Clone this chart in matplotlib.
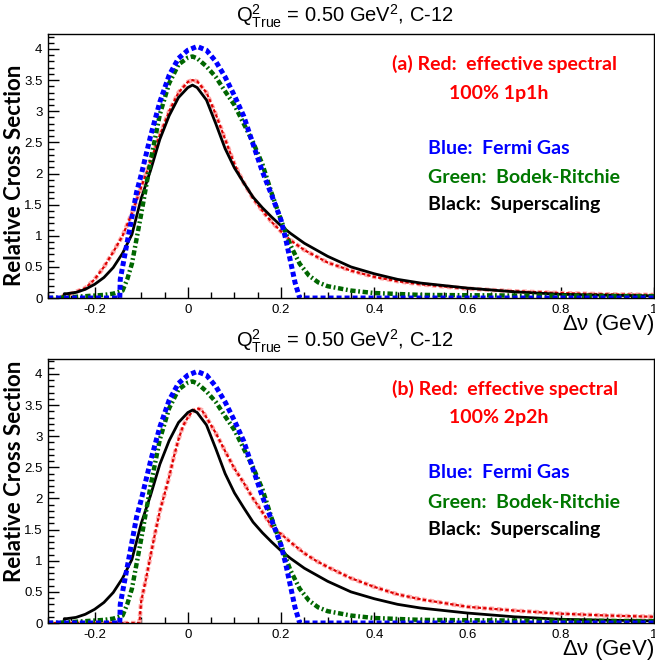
import numpy as np
import matplotlib
matplotlib.use('Agg')
import matplotlib.pyplot as plt
from matplotlib.ticker import MultipleLocator, FormatStrFormatter

plt.rcParams['font.family'] = ['Liberation Sans', 'DejaVu Sans']
plt.rcParams['axes.unicode_minus'] = False
plt.rcParams['mathtext.default'] = 'regular'

# Fermi gas (blue), same in both panels
blue_x = [-0.30, -0.146, -0.145, -0.14, -0.13, -0.12, -0.11, -0.10, -0.08, -0.06, -0.04, -0.02, 0.00, 0.02,
          0.04, 0.06, 0.08, 0.10, 0.12, 0.14, 0.16, 0.18, 0.20, 0.21, 0.22, 0.23, 0.24, 1.00]
blue_y = [0.0, 0.0, 0.3, 0.5, 0.9, 1.3, 1.7, 1.98, 2.6, 3.15, 3.58, 3.85, 3.98, 4.04,
          3.98, 3.8, 3.55, 3.25, 2.92, 2.47, 2.03, 1.65, 1.25, 0.95, 0.6, 0.25, 0.0, 0.0]

# Bodek-Ritchie (green)
green_x = [-0.30, -0.26, -0.22, -0.18, -0.16, -0.14, -0.13, -0.12, -0.11, -0.10, -0.08, -0.06, -0.04, -0.02,
           0.00, 0.01, 0.02, 0.04, 0.06, 0.08, 0.10, 0.12, 0.14, 0.16, 0.18, 0.20, 0.22, 0.24, 0.26,
           0.28, 0.30, 0.35, 0.40, 0.50, 0.70, 1.00]
green_y = [0.0, 0.01, 0.03, 0.05, 0.07, 0.12, 0.3, 0.55, 0.95, 1.35, 2.2, 2.95, 3.45, 3.75,
           3.86, 3.88, 3.85, 3.72, 3.55, 3.32, 3.1, 2.8, 2.5, 2.15, 1.68, 1.25, 0.85, 0.55, 0.36,
           0.25, 0.19, 0.12, 0.08, 0.05, 0.04, 0.03]

# Superscaling (black)
black_x = [-0.266, -0.265, -0.26, -0.24, -0.22, -0.20, -0.18, -0.16, -0.14, -0.12, -0.10, -0.08, -0.06, -0.04,
           -0.02, 0.00, 0.01, 0.02, 0.04, 0.06, 0.08, 0.10, 0.12, 0.14, 0.16, 0.18, 0.20, 0.22, 0.25,
           0.30, 0.35, 0.40, 0.45, 0.50, 0.60, 0.70, 0.80, 0.90, 1.00]
black_y = [0.0, 0.07, 0.07, 0.09, 0.14, 0.22, 0.33, 0.49, 0.72, 1.02, 1.6, 2.05, 2.55, 2.93,
           3.22, 3.38, 3.42, 3.38, 3.18, 2.8, 2.4, 2.09, 1.85, 1.62, 1.45, 1.3, 1.16, 1.04, 0.88,
           0.67, 0.5, 0.39, 0.3, 0.24, 0.16, 0.1, 0.06, 0.045, 0.035]

# effective spectral, 100% 1p1h (red, panel a)
red_a_x = [-0.27, -0.25, -0.22, -0.20, -0.18, -0.16, -0.14, -0.12, -0.10, -0.08, -0.06, -0.04, -0.02,
           0.00, 0.01, 0.02, 0.04, 0.06, 0.08, 0.10, 0.12, 0.14, 0.16, 0.18, 0.20, 0.22, 0.25,
           0.30, 0.35, 0.40, 0.45, 0.50, 0.60, 0.70, 0.80, 0.90, 1.00]
red_a_y = [0.03, 0.07, 0.16, 0.3, 0.5, 0.74, 1.0, 1.36, 1.78, 2.2, 2.62, 3.0, 3.3,
           3.47, 3.5, 3.48, 3.3, 2.95, 2.55, 2.15, 1.85, 1.6, 1.4, 1.22, 1.07, 0.93, 0.77,
           0.57, 0.44, 0.34, 0.27, 0.22, 0.15, 0.11, 0.08, 0.06, 0.05]

# effective spectral, 100% 2p2h (red, panel b)
red_b_x = [-0.30, -0.104, -0.10, -0.09, -0.08, -0.07, -0.06, -0.05, -0.04, -0.03, -0.02, -0.01,
           0.00, 0.01, 0.02, 0.03, 0.04, 0.06, 0.08, 0.10, 0.12, 0.14, 0.16, 0.18, 0.20, 0.22,
           0.25, 0.275, 0.30, 0.35, 0.40, 0.45, 0.50, 0.60, 0.70, 0.80, 0.90, 1.00]
red_b_y = [0.0, 0.0, 0.35, 0.7, 1.08, 1.45, 1.8, 2.07, 2.35, 2.67, 2.95, 3.17,
           3.3, 3.4, 3.45, 3.42, 3.3, 3.05, 2.76, 2.48, 2.25, 2.0, 1.78, 1.55, 1.43, 1.3,
           1.12, 1.0, 0.9, 0.72, 0.58, 0.46, 0.38, 0.26, 0.2, 0.15, 0.12, 0.1]

panels = [
    dict(rect=[0.0733, 0.5498, 0.925, 0.3988], red_x=red_a_x, red_y=red_a_y, top=34,
         title_y=16, ylab_y=175, lines=['(a) Red:  effective spectral', '100% 1p1h']),
    dict(rect=[0.0733, 0.0589, 0.925, 0.3988], red_x=red_b_x, red_y=red_b_y, top=359,
         title_y=341, ylab_y=471, lines=['(b) Red:  effective spectral', '100% 2p2h']),
]

fig = plt.figure(figsize=(6.55, 6.62), dpi=100)
W, H = 655.0, 662.0
note_font = dict(fontsize=14, fontweight='bold', family='Lato', va='center', ha='left')

for p in panels:
    ax = fig.add_axes(p['rect'])
    ax.plot(p['red_x'], p['red_y'], color='#ffaaaa', lw=3.2, ls=(0, (1, 0.7)))
    ax.plot(p['red_x'], p['red_y'], color='#dd0000', lw=1.6, ls=(0, (1.5, 1)))
    ax.plot(black_x, black_y, color='black', lw=2.0)
    ax.plot(green_x, green_y, color='#006600', lw=3.2, ls=(0, (1.2, 0.6, 0.4, 0.6)))
    ax.plot(blue_x, blue_y, color='#0000ff', lw=3.6, ls=(0, (1, 0.6)))

    ax.set_xlim(-0.3, 1.0)
    ax.set_ylim(0, 4.24)
    ax.xaxis.set_major_locator(MultipleLocator(0.2))
    ax.xaxis.set_minor_locator(MultipleLocator(0.05))
    ax.yaxis.set_major_locator(MultipleLocator(0.5))
    ax.yaxis.set_minor_locator(MultipleLocator(0.1))
    ax.xaxis.set_major_formatter(FormatStrFormatter('%g'))
    ax.yaxis.set_major_formatter(FormatStrFormatter('%g'))
    ax.tick_params(which='both', direction='in', labelsize=9.5, width=1)
    ax.tick_params(which='major', length=8, pad=4)
    ax.tick_params(which='minor', length=4)
    ax.tick_params(axis='y', pad=4)
    for s in ax.spines.values():
        s.set_linewidth(1)

    ax.text(1.0, -0.1, r'$\Delta\nu$ (GeV)', transform=ax.transAxes, ha='right', va='center',
            fontsize=16)

    # panel title
    fig.text(345 / W, 1 - p['title_y'] / H, r'$Q^{2}_{True}$ = 0.50 GeV$^{2}$, C-12',
             ha='center', va='center', fontsize=14.5)

    # y label
    fig.text(15 / W, 1 - p['ylab_y'] / H, 'Relative Cross Section',
             rotation=90, ha='center', va='center', fontsize=16, fontweight='bold', family='Lato')

    top = p['top']
    fig.text(392 / W, 1 - (top + 30) / H, p['lines'][0], color='#ff0000', **note_font)
    fig.text(449 / W, 1 - (top + 59) / H, p['lines'][1], color='#ff0000', **note_font)
    fig.text(428 / W, 1 - (top + 114) / H, 'Blue:  Fermi Gas', color='#0000ff', **note_font)
    fig.text(428 / W, 1 - (top + 143) / H, 'Green:  Bodek-Ritchie', color='#007700', **note_font)
    fig.text(428 / W, 1 - (top + 171) / H, 'Black:  Superscaling', color='black', **note_font)

fig.savefig('out.png', dpi=100)
